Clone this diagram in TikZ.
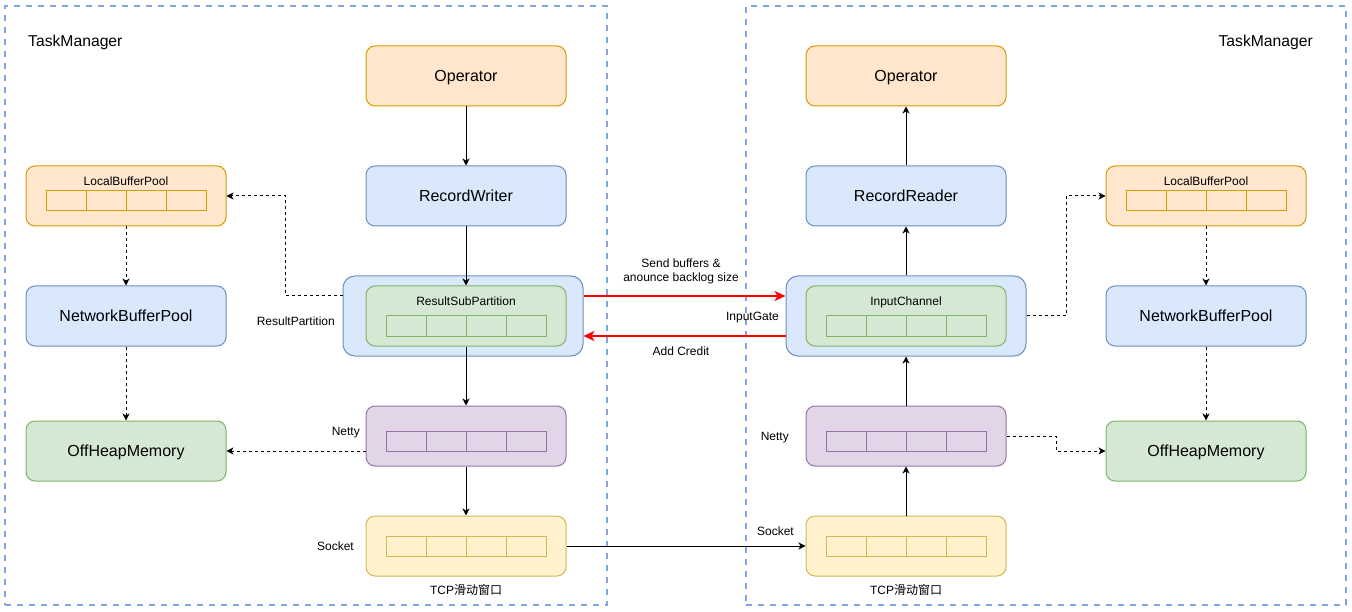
\documentclass[tikz,border=0pt]{standalone}
\usepackage{fontspec}
\setmainfont{Liberation Sans}
\newfontfamily\cjk{Noto Sans CJK SC}
\usetikzlibrary{arrows.meta,calc}
\definecolor{orF}{HTML}{FFE6CC}\definecolor{orS}{HTML}{D79B00}
\definecolor{blF}{HTML}{DAE8FC}\definecolor{blS}{HTML}{6C8EBF}
\definecolor{grF}{HTML}{D5E8D4}\definecolor{grS}{HTML}{82B366}
\definecolor{puF}{HTML}{E1D5E7}\definecolor{puS}{HTML}{9673A6}
\definecolor{yeF}{HTML}{FFF2CC}\definecolor{yeS}{HTML}{D6B656}
\definecolor{tmS}{HTML}{7EA6E0}
\definecolor{redA}{HTML}{FF0000}
\newcommand\bufrow[3]{\foreach \i in {0,1,2,3}{\draw[line width=1pt,#3] ($(#1.center)+(-80+40*\i,#2-10)$) rectangle ++(40,20);}}
\begin{document}
\begin{tikzpicture}[x=1pt,y=-1pt,
  box/.style={rectangle,rounded corners=9pt,minimum width=200pt,minimum height=60pt,inner sep=0pt,line width=1pt,font=\fontsize{16}{19}\selectfont,text height=11.4pt,text depth=0pt},
  outer/.style={rectangle,rounded corners=12pt,minimum width=240pt,minimum height=80pt,inner sep=0pt,line width=1pt},
  orbox/.style={box,fill=orF,draw=orS},
  blbox/.style={box,fill=blF,draw=blS},
  grbox/.style={box,fill=grF,draw=grS},
  pubox/.style={box,fill=puF,draw=puS},
  yebox/.style={box,fill=yeF,draw=yeS},
  tm/.style={draw=tmS,line width=1.8pt,dash pattern=on 6pt off 6pt,rectangle,inner sep=0pt},
  small/.style={inner sep=0pt,font=\fontsize{12}{14}\selectfont,text height=8.6pt,text depth=0pt},
  big/.style={inner sep=0pt,font=\fontsize{15.7}{18}\selectfont,text height=11.2pt,text depth=0pt},
  arr/.style={-{Stealth[length=7pt,width=7pt,inset=2pt]},line width=1pt},
  darr/.style={arr,dash pattern=on 3pt off 3pt},
  rarr/.style={-{Stealth[length=11pt,width=10pt,inset=3pt]},line width=2pt,draw=redA}
]
\useasboundingbox (0,0) rectangle (1352,612);
% containers
\node[tm,minimum width=602pt,minimum height=599pt] (tmL) at (306,305.5) {};
\node[tm,minimum width=600pt,minimum height=599pt] (tmR) at (1046,305.5) {};
\node[big,anchor=west] (tmLt) at (28,41) {TaskManager};
\node[big,anchor=east] (tmRt) at (1313,41) {TaskManager};
% left column
\node[orbox] (opL) at (466,76) {Operator};
\node[blbox] (rw) at (466,196) {RecordWriter};
\node[outer,fill=blF,draw=blS] (rp) at (463,316) {};
\node[grbox] (rsp) at (466,316) {};
\node[small] (rspt) at ($(rsp.center)+(0,-15)$) {ResultSubPartition};
\bufrow{rsp}{10}{grS}
\node[pubox] (nettyL) at (466,436) {};
\bufrow{nettyL}{5}{puS}
\node[yebox] (sockL) at (466,546) {};
\bufrow{sockL}{0}{yeS}
\node[orbox] (lbpL) at (126,196) {};
\node[small] (lbpLt) at ($(lbpL.center)+(0,-15)$) {LocalBufferPool};
\bufrow{lbpL}{5}{orS}
\node[blbox] (nbpL) at (126,316) {NetworkBufferPool};
\node[grbox] (ohmL) at (126,451) {OffHeapMemory};
\node[small,anchor=east] (rpt) at (335,321) {ResultPartition};
\node[small,anchor=east] (nettyLt) at (360,431) {Netty};
\node[small,anchor=east] (sockLt) at (354,546) {Socket};
\node[small] (tcpL) at (466,590) {TCP{\cjk 滑动窗口}};
% right column
\node[orbox] (opR) at (906,76) {Operator};
\node[blbox] (rr) at (906,196) {RecordReader};
\node[outer,fill=blF,draw=blS] (ig) at (906,316) {};
\node[grbox] (ic) at (906,316) {};
\node[small] (ict) at ($(ic.center)+(0,-15)$) {InputChannel};
\bufrow{ic}{10}{grS}
\node[pubox] (nettyR) at (906,436) {};
\bufrow{nettyR}{5}{puS}
\node[yebox] (sockR) at (906,546) {};
\bufrow{sockR}{0}{yeS}
\node[orbox] (lbpR) at (1206,196) {};
\node[small] (lbpRt) at ($(lbpR.center)+(0,-15)$) {LocalBufferPool};
\bufrow{lbpR}{5}{orS}
\node[blbox] (nbpR) at (1206,316) {NetworkBufferPool};
\node[grbox] (ohmR) at (1206,451) {OffHeapMemory};
\node[small,anchor=east] (igt) at (779,316) {InputGate};
\node[small,anchor=east] (nettyRt) at (789,436) {Netty};
\node[small,anchor=east] (sockRt) at (794,531) {Socket};
\node[small] (tcpR) at (906,590) {TCP{\cjk 滑动窗口}};
% middle labels
\node[small,align=center] (sendt) at (681,277) {Send buffers \&\\anounce backlog size};
\node[small] (creditt) at (681,351) {Add Credit};
% solid arrows left
\draw[arr] (opL) -- (rw);
\draw[arr] (rw.south) -- (rsp.north);
\draw[arr] (rsp.south) -- (nettyL.north);
\draw[arr] (nettyL) -- (sockL);
\draw[arr] (sockL.east) -- (sockR.west);
% solid arrows right
\draw[arr] (sockR) -- (nettyR);
\draw[arr] (nettyR.north) -- (ig.south);
\draw[arr] (ig.north) -- (rr.south);
\draw[arr] (rr) -- (opR);
% red arrows
\draw[rarr] ([yshift=20pt]rp.east) -- ([yshift=20pt]ig.west);
\draw[rarr] ([yshift=-20pt]ig.west) -- ([yshift=-20pt]rp.east);
% dashed left
\coordinate (bendL) at (285,296);
\draw[darr] ([yshift=20pt]rp.west) -- (bendL) |- (lbpL.east);
\draw[darr] (lbpL) -- (nbpL);
\draw[darr] (nbpL) -- (ohmL);
\draw[darr] (ohmL.east -| nettyL.west) -- (ohmL.east);
% dashed right
\coordinate (bendR1) at (1066,316);
\draw[darr] (ig.east) -- (bendR1) |- (lbpR.west);
\coordinate (bendR2) at (1056,436);
\draw[darr] (nettyR.east) -- (bendR2) |- (ohmR.west);
\draw[darr] (lbpR) -- (nbpR);
\draw[darr] (nbpR) -- (ohmR);
\end{tikzpicture}
\end{document}
